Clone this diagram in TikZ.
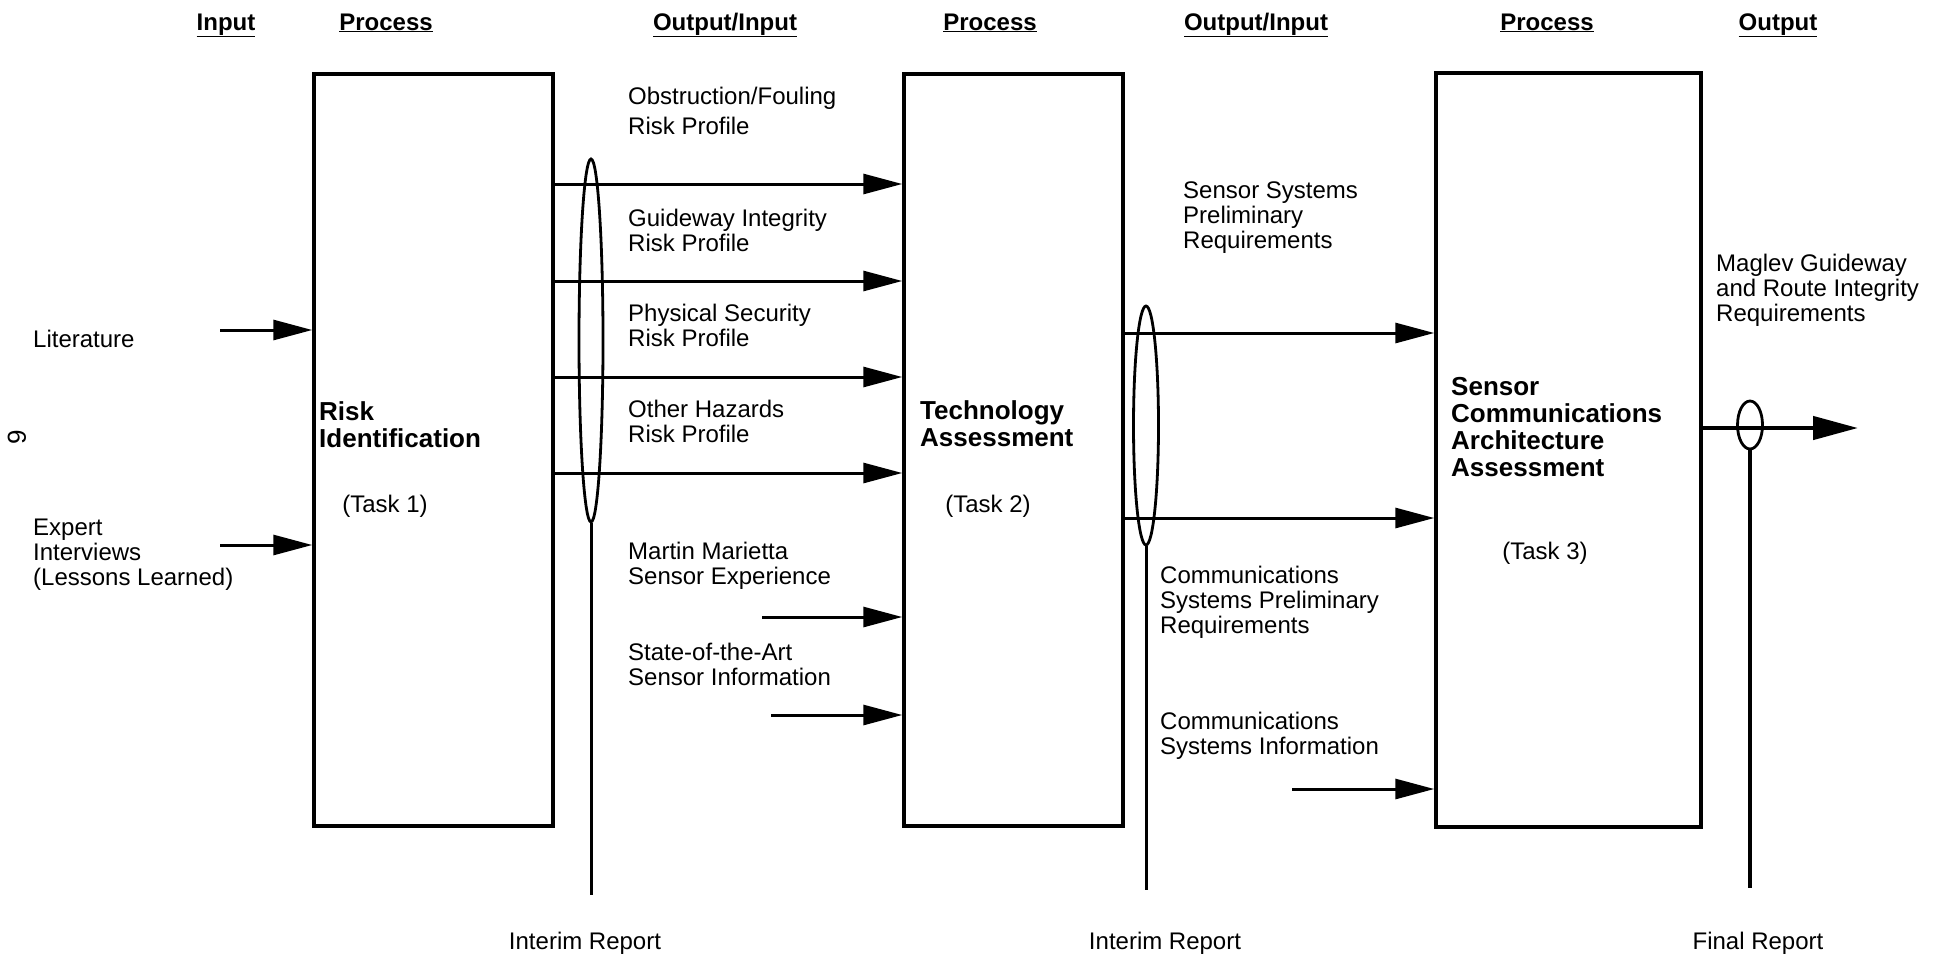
\documentclass[tikz,border=0pt]{standalone}
\usepackage{fontspec}
\setmainfont{Liberation Sans}
\usetikzlibrary{arrows.meta,shapes.geometric}
\begin{document}
\begin{tikzpicture}[x=1pt,y=-1pt,
  procbox/.style={draw, line width=3.5pt, inner sep=0pt},
  arr/.style={line width=3pt, -{Triangle[length=39pt,width=20pt]}},
  bigarr/.style={line width=4.5pt, -{Triangle[length=45pt,width=23pt]}},
  oval/.style={draw, ellipse, line width=2.8pt, inner sep=0pt},
  stem/.style={line width=3pt},
  hdr/.style={font=\fontsize{24}{25}\selectfont\bfseries, inner sep=0pt, anchor=base},
  lbl/.style={font=\fontsize{24}{25}\selectfont, align=left, anchor=west, inner sep=0pt},
  blbl/.style={font=\fontsize{26}{26.7}\selectfont\bfseries, align=left, anchor=west, inner sep=0pt},
  clbl/.style={font=\fontsize{24}{25}\selectfont, inner sep=0pt}
]
\useasboundingbox (0,0) rectangle (1940,959);

% headers
\node[hdr] (h1) at (226,30) {\underline{Input}};
\node[hdr] (h2) at (386,30) {\underline{Process}};
\node[hdr] (h3) at (725,30) {\underline{Output/Input}};
\node[hdr] (h4) at (990,30) {\underline{Process}};
\node[hdr] (h5) at (1256,30) {\underline{Output/Input}};
\node[hdr] (h6) at (1547,30) {\underline{Process}};
\node[hdr] (h7) at (1778,30) {\underline{Output}};

% page number
\node[font=\fontsize{26}{26}\selectfont, rotate=90, inner sep=0pt] (pg) at (17,437) {9};

% process boxes
\node[procbox, minimum width=239pt, minimum height=752pt] (b1) at (433.5,450) {};
\node[procbox, minimum width=219pt, minimum height=752pt] (b2) at (1013.5,450) {};
\node[procbox, minimum width=265pt, minimum height=754pt] (b3) at (1568.5,450) {};

% box texts
\node[blbl] (t1) at (319,424.5) {Risk\\Identification};
\node[clbl] (k1) at (385,506) {(Task 1)};
\node[blbl] (t2) at (920,423.5) {Technology\\Assessment};
\node[clbl] (k2) at (988,506) {(Task 2)};
\node[blbl] (t3) at (1451,427) {Sensor\\Communications\\Architecture\\Assessment};
\node[clbl] (k3) at (1545,553) {(Task 3)};

% inputs to box 1
\node[lbl] (lit) at (33,339) {Literature};
\node[lbl] (exp) at (33,555) {Expert\\Interviews\\(Lessons Learned)};
\coordinate (litS) at (220,330);
\coordinate (expS) at (220,545);
\draw[arr] (litS) -- (b1.west |- litS);
\draw[arr] (expS) -- (b1.west |- expS);

% box 1 -> box 2
\node[lbl] (o1) at (628,111) {Obstruction/Fouling\\[5pt]Risk Profile};
\node[lbl] (o2) at (628,230) {Guideway Integrity\\Risk Profile};
\node[lbl] (o3) at (628,325) {Physical Security\\Risk Profile};
\node[lbl] (o4) at (628,421) {Other Hazards\\Risk Profile};
\draw[arr] (b1.east |- 0,184) -- (b2.west |- 0,184);
\draw[arr] (b1.east |- 0,281) -- (b2.west |- 0,281);
\draw[arr] (b1.east |- 0,377) -- (b2.west |- 0,377);
\draw[arr] (b1.east |- 0,473) -- (b2.west |- 0,473);

\node[oval, minimum width=24pt, minimum height=363pt] (e1) at (591,340.5) {};
\coordinate (r1) at (591,895);
\draw[stem] (e1.south) -- (r1);
\node[clbl] (ir1) at (585,943) {Interim Report};

% other inputs to box 2
\node[lbl] (mm) at (628,565.5) {Martin Marietta\\Sensor Experience};
\node[lbl] (sa) at (628,664) {State-of-the-Art\\Sensor Information};
\coordinate (mmS) at (762,617);
\coordinate (saS) at (771,715);
\draw[arr] (mmS) -- (b2.west |- mmS);
\draw[arr] (saS) -- (b2.west |- saS);

% box 2 -> box 3
\node[lbl] (ss) at (1183,218) {Sensor Systems\\Preliminary\\Requirements};
\node[lbl] (cp) at (1160,602) {Communications\\Systems Preliminary\\Requirements};
\draw[arr] (b2.east |- 0,333) -- (b3.west |- 0,333);
\draw[arr] (b2.east |- 0,518) -- (b3.west |- 0,518);

\node[oval, minimum width=25pt, minimum height=239pt] (e2) at (1146,425.5) {};
\coordinate (r2) at (1146,890);
\draw[stem] (e2.south) -- (r2);
\node[clbl] (ir2) at (1165,943) {Interim Report};

% comms info into box 3
\node[lbl] (ci) at (1160,735.5) {Communications\\Systems Information};
\coordinate (ciS) at (1292,789);
\draw[arr] (ciS) -- (b3.west |- ciS);

% output
\node[lbl] (mg) at (1716,290) {Maglev Guideway\\and Route Integrity\\Requirements};
\coordinate (outE) at (1858,428);
\draw[bigarr] (b3.east |- outE) -- (outE);
\node[oval, minimum width=25pt, minimum height=48pt] (e3) at (1750,425) {};
\coordinate (r3) at (1750,888);
\draw[line width=3.5pt] (e3.south) -- (r3);
\node[clbl] (fr) at (1758,943) {Final Report};
\end{tikzpicture}
\end{document}
